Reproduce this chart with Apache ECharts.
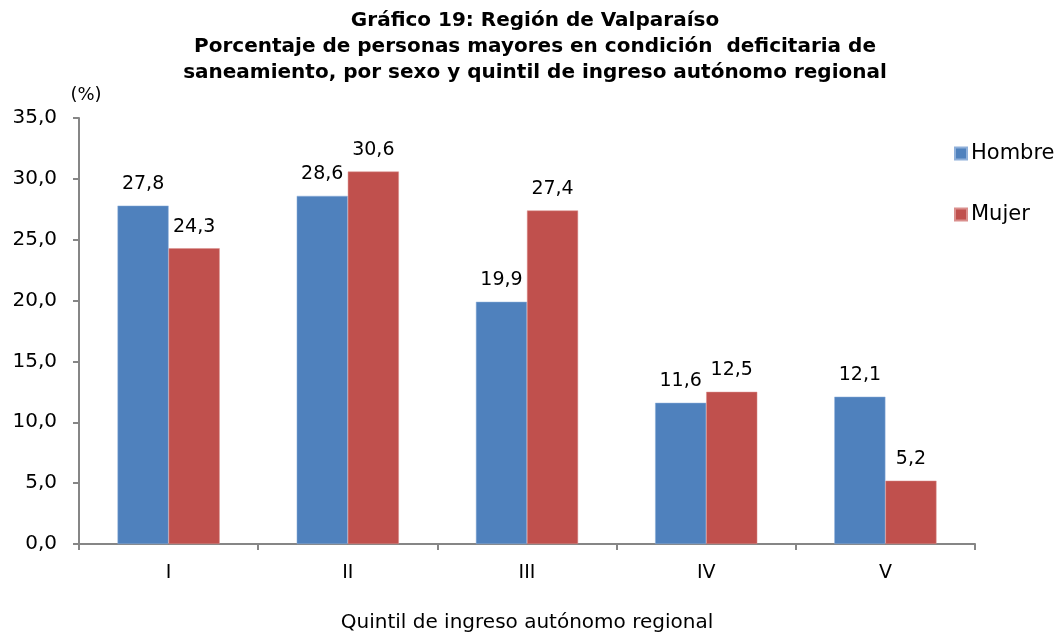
<!DOCTYPE html>
<html>
<head>
<meta charset="utf-8">
<script src="https://cdn.jsdelivr.net/npm/echarts@6/dist/echarts.min.js"></script>
<style>
  html, body { margin: 0; padding: 0; background: #fff; }
  #chart { width: 1060px; height: 635px; }
</style>
</head>
<body>
<div id="chart"></div>
<script>
// datos
var quintiles = ['I', 'II', 'III', 'IV', 'V'];
var hombre = [27.8, 28.6, 19.9, 11.6, 12.1];
var mujer = [24.3, 30.6, 27.4, 12.5, 5.2];

var fontFam = 'Verdana, "DejaVu Sans", sans-serif';
var coma = function (v) { return Number(v).toFixed(1).replace('.', ','); };

var chart = echarts.init(document.getElementById('chart'));

var option = {
  animation: false,
  textStyle: { fontFamily: fontFam },
  title: {
    text: 'Gráfico 19: Región de Valparaíso\nPorcentaje de personas mayores en condición  deficitaria de\nsaneamiento, por sexo y quintil de ingreso autónomo regional',
    left: 530,
    textAlign: 'center',
    top: 3,
    textStyle: { fontFamily: fontFam, fontSize: 20, fontWeight: 'bold', color: '#000', lineHeight: 26 }
  },
  legend: {
    orient: 'vertical',
    left: 949,
    top: 138,
    itemWidth: 12,
    itemHeight: 12,
    itemGap: 40,
    icon: 'rect',
    textStyle: { fontFamily: fontFam, fontSize: 21, color: '#000', padding: [0, 0, 0, -1] },
    data: ['Hombre', 'Mujer']
  },
  grid: { left: 79, right: 85, top: 118, bottom: 91, containLabel: false, outerBoundsMode: 'none' },
  xAxis: {
    type: 'category',
    data: quintiles,
    name: 'Quintil de ingreso autónomo regional',
    nameLocation: 'middle',
    nameGap: 69,
    nameTextStyle: { fontFamily: fontFam, fontSize: 20, color: '#000' },
    axisLine: { lineStyle: { color: '#868686', width: 2 } },
    axisTick: { show: true, length: 6, lineStyle: { color: '#868686', width: 2 } },
    axisLabel: { fontFamily: fontFam, fontSize: 19, color: '#000', margin: 20 }
  },
  yAxis: {
    type: 'value',
    min: 0,
    max: 35,
    interval: 5,
    name: '(%)',
    nameLocation: 'end',
    nameGap: 14,
    nameTextStyle: { fontFamily: fontFam, fontSize: 18, color: '#000', align: 'center', padding: [0, 0, 0, 14] },
    splitLine: { show: false },
    axisLine: { show: true, lineStyle: { color: '#868686', width: 2 } },
    axisTick: { show: true, length: 6, lineStyle: { color: '#868686', width: 2 } },
    axisLabel: { fontFamily: fontFam, fontSize: 20, color: '#000', margin: 22, formatter: coma }
  },
  series: [
    {
      name: 'Hombre',
      type: 'bar',
      data: hombre,
      barWidth: '28.5%',
      barGap: '0%',
      itemStyle: { color: '#4F81BD', borderColor: '#8FB0DA', borderWidth: 0.5 },
      label: { show: true, position: 'top', distance: 12, fontFamily: fontFam, fontSize: 19, color: '#000', formatter: function (p) { return coma(p.value); } }
    },
    {
      name: 'Mujer',
      type: 'bar',
      data: mujer,
      barWidth: '28.5%',
      itemStyle: { color: '#C0504D', borderColor: '#DA8F8D', borderWidth: 0.5 },
      label: { show: true, position: 'top', distance: 12, fontFamily: fontFam, fontSize: 19, color: '#000', formatter: function (p) { return coma(p.value); } }
    }
  ]
};

chart.setOption(option);
</script>
</body>
</html>
